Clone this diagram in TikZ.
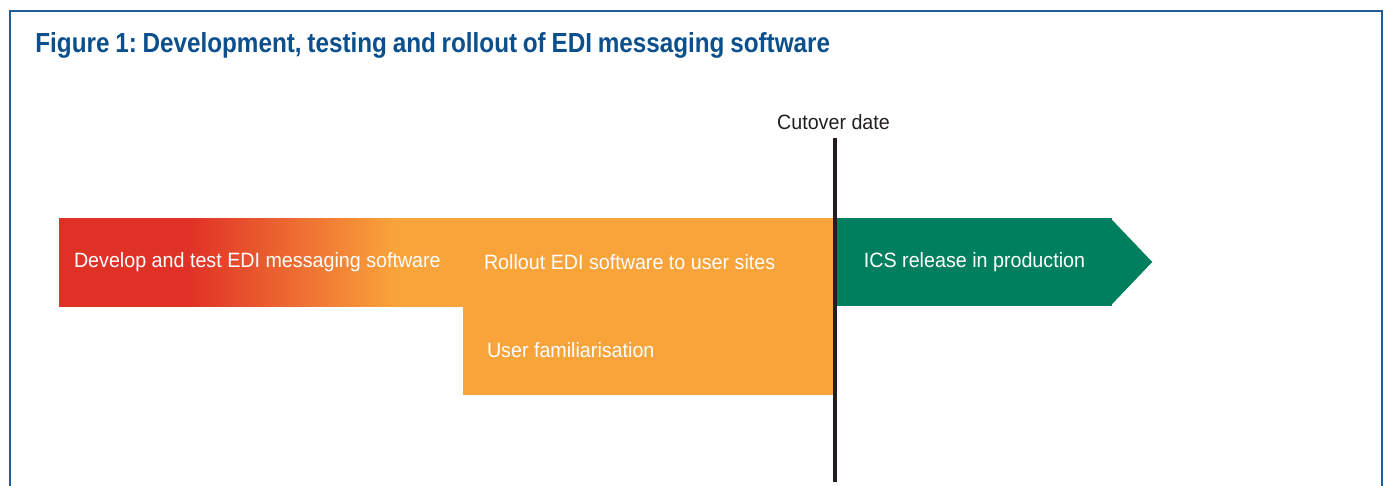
\documentclass[tikz,border=0pt]{standalone}
\usepackage{fontspec}
\setmainfont{Liberation Sans}[FakeStretch=0.95]
\newfontfamily\titelfont{Liberation Sans}[FakeStretch=0.88, WordSpace=0.85]
\usetikzlibrary{positioning}

% Farben
\definecolor{titelblau}{HTML}{0B4F8C}
\definecolor{rahmenblau}{HTML}{1F5C99}
\definecolor{devrot}{HTML}{E03127}
\definecolor{rollorange}{HTML}{F9A33B}
\definecolor{icsgruen}{HTML}{007F5F}
\definecolor{liniengrau}{HTML}{231F20}

% ein Bildpunkt
\newlength\pxu
\setlength\pxu{0.02cm}

% Verlauf rot -> orange
\pgfdeclarehorizontalshading{devshade}{100bp}{color(0bp)=(devrot); color(41bp)=(devrot); color(66.5bp)=(rollorange); color(100bp)=(rollorange)}

\tikzset{
	balken/.style={anchor=north west, minimum height=88\pxu, inner ysep=0pt, outer sep=0pt,
		text=white, align=flush left, font=\fontsize{11.8}{14}\selectfont},
}

\begin{document}
\begin{tikzpicture}[x=0.02cm, y=-0.02cm]
		\useasboundingbox (0,0) rectangle (1388,486);
		
		% Rahmen
		\draw[rahmenblau, line width=1.5pt] (10,486) -- (10,11) -- (1382,11) -- (1382,486);
		
		% Titel
		\node[anchor=base west, inner sep=0pt, text=titelblau, font=\titelfont\fontsize{15.7}{18}\selectfont\bfseries\frenchspacing] (titel) at (35,53)
			{Figure 1: Development, testing and rollout of EDI messaging software};
		
		% Balken
		\node[balken, shading=devshade, inner xsep=15\pxu, text width=374\pxu] (dev) at (59,218)
			{Develop and test EDI messaging software};
		\node[balken, fill=rollorange, draw=rollorange, inner xsep=21\pxu, text width=328\pxu] (roll) at (dev.north east)
			{Rollout EDI software to user sites};
		\node[balken, fill=rollorange, draw=rollorange, inner xsep=24\pxu, text width=322\pxu] (user) at (roll.south west)
			{User familiarisation};
		
		% Pfeil
		\node[balken, fill=icsgruen, minimum width=275\pxu] (ics) at (837,218)
			{ICS release in production};
		\fill[icsgruen] ([xshift=-1pt]ics.north east) -- ++(42,44) -- ([xshift=-1pt]ics.south east) -- cycle;
		
		% Stichtag
		\coordinate (cutoben) at (835,138);
		\coordinate (cutunten) at (835,482);
		\draw[liniengrau, line width=2.8pt] (cutoben) -- (cutunten);
		\node[anchor=base, inner sep=0pt, text=liniengrau, font=\fontsize{11.8}{14}\selectfont] (cutlabel) at (833.5,130) {Cutover date};
	\end{tikzpicture}
\end{document}
